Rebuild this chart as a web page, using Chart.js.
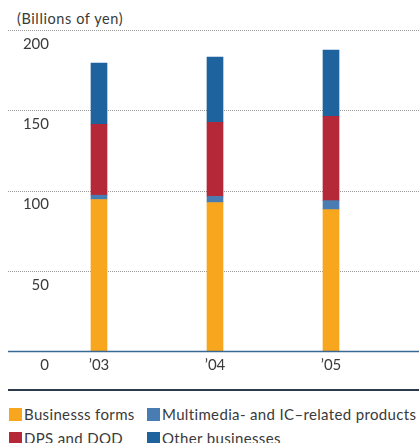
<!DOCTYPE html>
<html>
<head>
<meta charset="utf-8">
<script src="https://cdn.jsdelivr.net/npm/chart.js@4/dist/chart.umd.min.js"></script>
<style>
  html, body { margin: 0; padding: 0; background: #fff; }
  body { width: 419px; height: 443px; position: relative; overflow: hidden; font-family: Lato, "Open Sans", sans-serif; color: #3a3a3a; }
  #unit { position: absolute; left: 17px; top: 10px; font-size: 14.5px; letter-spacing: 0.6px; }
  #wrap { position: absolute; left: 0; top: 0; width: 419px; height: 385px; }
  #rule { position: absolute; left: 8px; top: 389px; width: 411px; height: 2px; background: #2d3a4c; }
  #legend { position: absolute; left: 9px; top: 404px; font-size: 15px; letter-spacing: 0.35px; }
  .item { position: absolute; white-space: nowrap; height: 20px; line-height: 20px; }
  .sw { display: inline-block; width: 13px; height: 13px; vertical-align: -1px; margin-right: 2px; }
</style>
</head>
<body>
<div id="unit">(Billions of yen)</div>
<div id="wrap"><canvas id="c" width="419" height="385"></canvas></div>
<div id="rule"></div>
<div id="legend"></div>
<script>
// Fiscal years and net sales by segment (billions of yen)
const years = ["\u201903", "\u201904", "\u201905"];
const businessForms = [94.4, 92.5, 88.1];
const multimediaIC = [2.7, 3.8, 5.6];
const dpsDod = [44.1, 46.2, 52.5];
const otherBusinesses = [38.2, 40.6, 41.3];
const yTicks = [0, 50, 100, 150, 200];

const seriesNames = ["Businesss forms", "Multimedia- and IC\u2013related products", "DPS and DOD", "Other businesses"];
const seriesColors = ["#f8a61d", "#4a7cb4", "#b52837", "#1f639e"];
const seriesData = [businessForms, multimediaIC, dpsDod, otherBusinesses];

// Dotted grid across the full width, solid baseline, and value labels under each line
const gridPlugin = {
  id: "fullGrid",
  beforeDatasetsDraw(chart) {
    const ctx = chart.ctx, y = chart.scales.y;
    ctx.save();
    y.ticks.forEach(t => {
      const py = Math.round(y.getPixelForValue(t.value)) + 0.5;
      if (t.value !== 0) {
        ctx.strokeStyle = "#9a9a9a";
        ctx.lineWidth = 1;
        ctx.setLineDash([1, 1]);
        ctx.beginPath(); ctx.moveTo(8, py); ctx.lineTo(419, py); ctx.stroke();
      }
    });
    ctx.restore();
  },
  afterDatasetsDraw(chart) {
    const ctx = chart.ctx, y = chart.scales.y;
    ctx.save();
    const p0 = Math.round(y.getPixelForValue(0)) + 0.5;
    ctx.strokeStyle = "#3a6895";
    ctx.lineWidth = 1.5;
    ctx.beginPath(); ctx.moveTo(8, p0); ctx.lineTo(419, p0); ctx.stroke();
    ctx.fillStyle = "#3a3a3a";
    ctx.font = "15px Lato, 'Open Sans', sans-serif";
    ctx.textAlign = "right";
    ctx.textBaseline = "middle";
    y.ticks.forEach(t => {
      ctx.fillText(String(t.value), 49, y.getPixelForValue(t.value) + 14);
    });
    ctx.restore();
  }
};

new Chart(document.getElementById("c"), {
  type: "bar",
  data: {
    labels: years,
    datasets: seriesData.map((d, i) => ({
      label: seriesNames[i],
      data: d,
      backgroundColor: seriesColors[i],
      barThickness: 16,
      borderWidth: 0
    }))
  },
  options: {
    responsive: false,
    animation: false,
    layout: { padding: { left: 41, right: 30, top: 30, bottom: 0 } },
    plugins: { legend: { display: false }, tooltip: { enabled: false } },
    scales: {
      x: {
        stacked: true,
        grid: { display: false },
        border: { display: false },
        ticks: { color: "#3a3a3a", font: { family: "Lato, 'Open Sans', sans-serif", size: 15 }, padding: -3, maxRotation: 0 },
        afterFit(s) { s.height = 34; }
      },
      y: {
        stacked: true,
        min: 0, max: 200,
        afterBuildTicks(s) { s.ticks = yTicks.map(v => ({ value: v })); },
        grid: { display: false },
        border: { display: false },
        ticks: { display: false },
        afterFit(s) { s.width = 0; }
      }
    }
  },
  plugins: [gridPlugin]
});

// Legend in two columns
const legend = document.getElementById("legend");
const legendOrder = [0, 1, 2, 3];
const legendPos = [[0, 0], [138, 0], [0, 24], [138, 24]];
legendOrder.forEach((idx, k) => {
  const el = document.createElement("div");
  el.className = "item";
  el.style.left = legendPos[k][0] + "px";
  el.style.top = legendPos[k][1] + "px";
  el.innerHTML = '<span class="sw" style="background:' + seriesColors[idx] + '"></span>' + seriesNames[idx];
  legend.appendChild(el);
});
</script>
</body>
</html>
